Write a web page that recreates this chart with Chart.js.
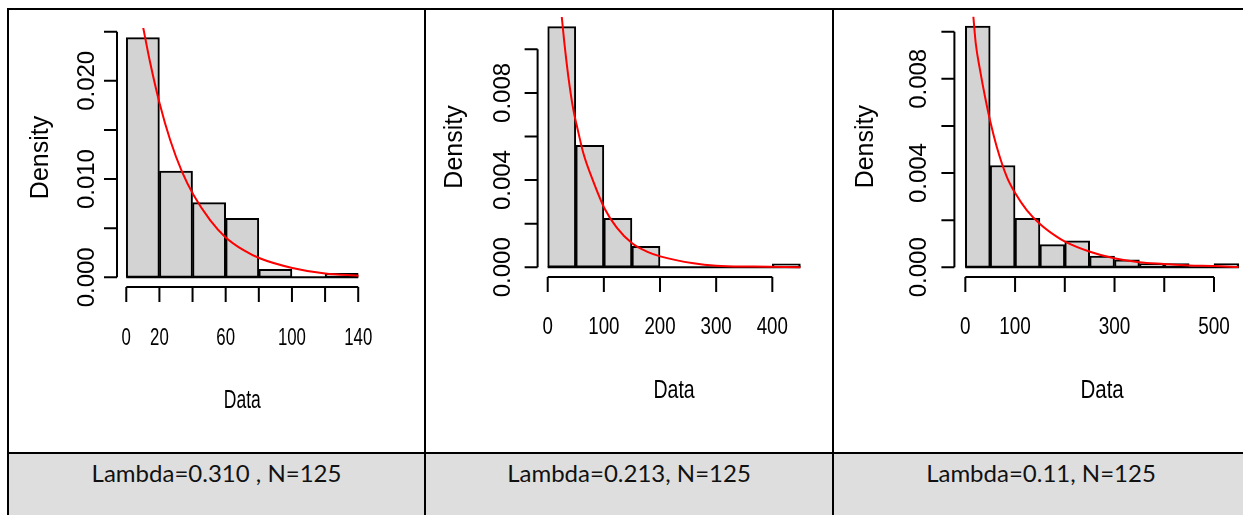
<!DOCTYPE html>
<html>
<head>
<meta charset="utf-8">
<script src="https://cdn.jsdelivr.net/npm/chart.js@4.4.1/dist/chart.umd.min.js"></script>
<style>
  html, body { margin: 0; padding: 0; background: #fff; overflow: hidden; }
  #page { position: relative; width: 1243px; height: 515px; overflow: hidden; }
  .ln { position: absolute; background: #000; }
  .cap { position: absolute; top: 454px; height: 61px; background: #dedede; color: #111;
         font-family: Lato, "Open Sans", sans-serif; font-size: 24px; text-align: center; line-height: 38px; }
  canvas { position: absolute; }
</style>
</head>
<body>
<div id="page">
  <canvas id="c1" width="414" height="442" style="left:10px;top:10px"></canvas>
  <canvas id="c2" width="405" height="442" style="left:427px;top:10px"></canvas>
  <canvas id="c3" width="430" height="442" style="left:835px;top:10px"></canvas>
  <div class="cap" id="cap1" style="left:9px;width:415px"></div>
  <div class="cap" id="cap2" style="left:426px;width:406px"></div>
  <div class="cap" id="cap3" style="left:834px;width:414px"></div>
  <div class="ln" style="left:7px;top:8px;width:1250px;height:2px"></div>
  <div class="ln" style="left:7px;top:8px;width:2px;height:510px"></div>
  <div class="ln" style="left:424px;top:8px;width:2px;height:510px"></div>
  <div class="ln" style="left:832px;top:8px;width:2px;height:510px"></div>
  <div class="ln" style="left:7px;top:452px;width:1250px;height:2px"></div>
</div>
<script>
// panel 1
const p1Breaks = [0, 20, 40, 60, 80, 100, 120, 140];
const p1Density = [0.0244, 0.0108, 0.0076, 0.0060, 0.0008, 0, 0.0004];
const p1CurveX = [10.1, 14.5, 20.1, 26.5, 33.6, 40.6, 50.6, 59.7, 70.8, 80.9, 100.2, 120.1, 140.2];
const p1CurveY = [0.02551, 0.02178, 0.01771, 0.01397, 0.01075, 0.00838, 0.00583, 0.00411, 0.00276, 0.00191, 0.00095, 0.00038, 0.00017];
const p1XTicks = [0, 20, 40, 60, 80, 100, 120, 140];
const p1XLabels = ['0', '20', '', '60', '', '100', '', '140'];
const p1YTicks = [0, 0.005, 0.010, 0.015, 0.020, 0.025];
const p1YLabels = ['0.000', '', '0.010', '', '0.020', ''];

// panel 2
const p2Breaks = [0, 50, 100, 150, 200, 250, 300, 350, 400, 450];
const p2Density = [0.01104, 0.0056, 0.00224, 0.00096, 0, 0, 0, 0, 0.00016];
const p2CurveX = [25, 29.1, 36.8, 45.7, 52.9, 63.5, 81.3, 101, 123, 150.3, 176.6, 202, 259.7, 300, 366.7, 450];
const p2CurveY = [0.0115, 0.01043, 0.00874, 0.00722, 0.00638, 0.00523, 0.00393, 0.00271, 0.00182, 0.0011, 0.00072, 0.00049, 0.00018, 0.00007, 0.00003, 0];
const p2XTicks = [0, 100, 200, 300, 400];
const p2XLabels = ['0', '100', '200', '300', '400'];
const p2YTicks = [0, 0.002, 0.004, 0.006, 0.008, 0.010];
const p2YLabels = ['0.000', '', '0.004', '', '0.008', ''];

// panel 3
const p3Breaks = [0, 50, 100, 150, 200, 250, 300, 350, 400, 450, 500, 550];
const p3Density = [0.01024, 0.00432, 0.00208, 0.00096, 0.00112, 0.00048, 0.00032, 0.00016, 0.00016, 0, 0.00016];
const p3CurveX = [16.1, 20.9, 29.5, 39.6, 51, 63.1, 83.2, 100.5, 123.4, 150.1, 183.6, 200.3, 250.6, 299.4, 349.6, 399.2, 449.5, 499.7, 549.3];
const p3CurveY = [0.01064, 0.00951, 0.00838, 0.00724, 0.00611, 0.00512, 0.00385, 0.00314, 0.00243, 0.00184, 0.0013, 0.00109, 0.00066, 0.00038, 0.00021, 0.00014, 0.00008, 0.00006, 0.00001];
const p3XTicks = [0, 100, 200, 300, 400, 500];
const p3XLabels = ['0', '100', '', '300', '', '500'];
const p3YTicks = [0, 0.002, 0.004, 0.006, 0.008, 0.010];
const p3YLabels = ['0.000', '', '0.004', '', '0.008', ''];

const captions = ['Lambda=0.310 , N=125', 'Lambda=0.213, N=125', 'Lambda=0.11, N=125'];
const xTitle = 'Data';
const yTitle = 'Density';

const rFont = '"Liberation Sans", Arial, sans-serif';

// R style axes: line only from first to last tick, labels rotated on y
const rAxes = {
  id: 'rAxes',
  beforeDatasetsDraw(chart, args, o) {
    const {ctx, scales: {x, y}} = chart;
    const b = o.breaks;
    ctx.save();
    ctx.strokeStyle = '#000';
    ctx.lineWidth = 2;
    ctx.beginPath();
    ctx.moveTo(x.getPixelForValue(b[0]), y.getPixelForValue(0));
    ctx.lineTo(x.getPixelForValue(b[b.length - 1]), y.getPixelForValue(0));
    ctx.stroke();
    ctx.restore();
  },
  afterDraw(chart, args, o) {
    const {ctx, chartArea: a, scales: {x, y}} = chart;
    ctx.save();
    ctx.strokeStyle = '#000';
    ctx.fillStyle = '#000';
    ctx.lineWidth = 2;
    ctx.beginPath();
    const yt = o.yTicks;
    ctx.moveTo(a.left, y.getPixelForValue(yt[0]));
    ctx.lineTo(a.left, y.getPixelForValue(yt[yt.length - 1]));
    yt.forEach(v => {
      const py = y.getPixelForValue(v);
      ctx.moveTo(a.left, py);
      ctx.lineTo(a.left - 13, py);
    });
    const xt = o.xTicks;
    ctx.moveTo(x.getPixelForValue(xt[0]), a.bottom);
    ctx.lineTo(x.getPixelForValue(xt[xt.length - 1]), a.bottom);
    xt.forEach(v => {
      const px = x.getPixelForValue(v);
      ctx.moveTo(px, a.bottom);
      ctx.lineTo(px, a.bottom + 15);
    });
    ctx.stroke();

    ctx.textAlign = 'center';
    ctx.textBaseline = 'middle';
    ctx.font = '24px ' + rFont;
    yt.forEach((v, i) => {
      if (!o.yLabels[i]) return;
      ctx.save();
      ctx.translate(a.left - o.yLabOff, y.getPixelForValue(v));
      ctx.rotate(-Math.PI / 2);
      ctx.fillText(o.yLabels[i], 0, 0);
      ctx.restore();
    });
    xt.forEach((v, i) => {
      if (!o.xLabels[i]) return;
      ctx.save();
      ctx.translate(x.getPixelForValue(v), a.bottom + o.xLabOff);
      ctx.scale(o.squish, 1);
      ctx.fillText(o.xLabels[i], 0, 0);
      ctx.restore();
    });
    ctx.font = '25px ' + rFont;
    ctx.save();
    ctx.translate(a.left - o.yTitleOff, (a.top + a.bottom) / 2);
    ctx.rotate(-Math.PI / 2);
    ctx.fillText(yTitle, 0, 0);
    ctx.restore();
    ctx.save();
    ctx.translate((a.left + a.right) / 2, a.bottom + o.xTitleOff);
    ctx.scale(o.titleSquish, 1);
    ctx.fillText(xTitle, 0, 0);
    ctx.restore();
    ctx.restore();
  }
};

function histPanel(id, breaks, density, curveX, curveY, xTicks, xLabels, yTicks, yLabels, look) {
  const mids = density.map((d, i) => (breaks[i] + breaks[i + 1]) / 2);
  const lo = breaks[0], hi = breaks[breaks.length - 1];
  const ymax = Math.max(...density);
  new Chart(document.getElementById(id), {
    type: 'bar',
    data: {
      datasets: [{
        type: 'line',
        data: curveX.map((v, i) => ({x: v, y: curveY[i]})),
        borderColor: '#ff0000',
        borderWidth: 2,
        pointRadius: 0,
        cubicInterpolationMode: 'monotone',
        order: 0
      }, {
        data: mids.map((m, i) => ({x: m, y: density[i]})),
        backgroundColor: '#d3d3d3',
        borderColor: '#000',
        borderWidth: 2,
        borderSkipped: false,
        barPercentage: 1,
        categoryPercentage: 1,
        order: 1
      }]
    },
    options: {
      responsive: false,
      animation: false,
      devicePixelRatio: 1,
      layout: {padding: look.pad},
      plugins: {
        legend: {display: false},
        tooltip: {enabled: false},
        rAxes: {breaks, xTicks, xLabels, yTicks, yLabels,
                yLabOff: look.yLabOff, yTitleOff: look.yTitleOff,
                xLabOff: look.xLabOff, xTitleOff: look.xTitleOff,
                squish: look.squish, titleSquish: look.titleSquish}
      },
      scales: {
        x: {
          type: 'linear', display: false, offset: false,
          min: lo - 0.04 * (hi - lo), max: hi + 0.04 * (hi - lo),
          afterBuildTicks: s => { s.ticks = breaks.map(v => ({value: v})); }
        },
        y: {
          type: 'linear', display: false,
          min: -0.04 * ymax, max: 1.04 * ymax
        }
      }
    },
    plugins: [rAxes]
  });
}

histPanel('c1', p1Breaks, p1Density, p1CurveX, p1CurveY, p1XTicks, p1XLabels, p1YTicks, p1YLabels,
  {pad: {left: 107, right: 56.5, top: 18, bottom: 165.1}, yLabOff: 29.5, yTitleOff: 75.5,
   xLabOff: 51, xTitleOff: 114, squish: 0.7, titleSquish: 0.7});
histPanel('c2', p2Breaks, p2Density, p2CurveX, p2CurveY, p2XTicks, p2XLabels, p2YTicks, p2YLabels,
  {pad: {left: 110.6, right: 21.5, top: 7, bottom: 175.1}, yLabOff: 33.8, yTitleOff: 82.5,
   xLabOff: 50.5, xTitleOff: 114, squish: 0.78, titleSquish: 0.78});
histPanel('c3', p3Breaks, p3Density, p3CurveX, p3CurveY, p3XTicks, p3XLabels, p3YTicks, p3YLabels,
  {pad: {left: 119.4, right: 15.2, top: 6.4, bottom: 175.05}, yLabOff: 35.4, yTitleOff: 88.6,
   xLabOff: 50.5, xTitleOff: 114, squish: 0.79, titleSquish: 0.82});

captions.forEach((t, i) => { document.getElementById('cap' + (i + 1)).textContent = t; });
</script>
</body>
</html>
